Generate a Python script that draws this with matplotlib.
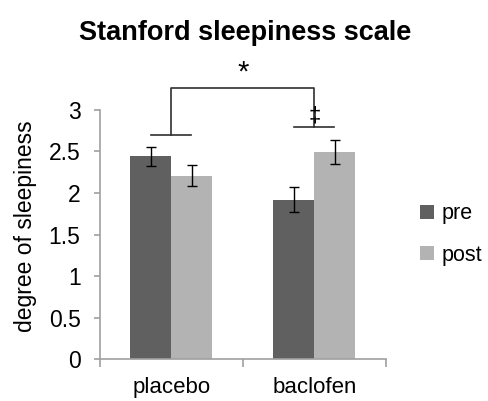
import numpy as np
import matplotlib.pyplot as plt

plt.rcParams['font.family'] = ['Liberation Sans', 'DejaVu Sans']

groups = ['placebo', 'baclofen']
pre = [2.44, 1.92]
post = [2.21, 2.49]
pre_err = [0.12, 0.15]
post_err = [0.125, 0.145]

pre_color = '#606060'
post_color = '#b3b3b3'
axis_color = '#a0a0a0'

fig = plt.figure(figsize=(4.89, 4.01), dpi=100)
ax = fig.add_axes([0.2045, 0.1047, 0.5845, 0.621])

x = np.arange(len(groups)) + 0.5
w = 0.287
ax.bar(x - w / 2, pre, w, color=pre_color, label='pre')
ax.bar(x + w / 2, post, w, color=post_color, label='post')
ax.errorbar(x - w / 2, pre, yerr=pre_err, fmt='none', ecolor='black',
            elinewidth=1, capsize=3.8, capthick=1)
ax.errorbar(x + w / 2, post, yerr=post_err, fmt='none', ecolor='black',
            elinewidth=1, capsize=3.8, capthick=1)

ax.set_xlim(0, 2)
ax.set_ylim(0, 3)
ax.set_yticks([0, 0.5, 1, 1.5, 2, 2.5, 3])
ax.set_yticklabels(['0', '0.5', '1', '1.5', '2', '2.5', '3'])
ax.set_xticks([0, 1, 2])
ax.set_xticklabels([])
ax.set_xticks(x, minor=True)
ax.set_xticklabels(groups, minor=True)
ax.tick_params(axis='x', which='minor', length=0, pad=13, labelsize=16)
ax.tick_params(axis='x', which='major', length=6, color=axis_color, width=1.2)
ax.tick_params(axis='y', length=4, color=axis_color, width=1.2, labelsize=16.5,
               pad=10)

for side in ['top', 'right']:
    ax.spines[side].set_visible(False)
for side in ['left', 'bottom']:
    ax.spines[side].set_color(axis_color)
    ax.spines[side].set_linewidth(1.2)

ax.set_ylabel('degree of sleepiness', fontsize=16.5)
ax.yaxis.set_label_coords(-0.22, 0.534)

# significance markers
lc = '#303030'
ax.plot([x[0] - 0.14, x[0] + 0.14], [2.70, 2.70], color=lc, lw=1.2, clip_on=False)
ax.plot([x[1] - 0.14, x[1] + 0.14], [2.79, 2.79], color=lc, lw=1.2, clip_on=False)
ax.plot([x[0], x[0], x[1], x[1]], [2.70, 3.26, 3.26, 2.79], color=lc, lw=1.2,
        clip_on=False)
ax.text(1.0, 3.28, '*', ha='center', va='bottom', fontsize=21, clip_on=False)
ax.text(x[1], 2.80, '‡', ha='center', va='bottom', fontsize=16, clip_on=False)

fig.text(0.501, 0.90, 'Stanford sleepiness scale', ha='center', va='baseline',
         fontsize=19.5, fontweight='bold')

ax.legend(loc='center left', bbox_to_anchor=(1.052, 0.50), frameon=False,
          fontsize=15.5, handlelength=0.65, handleheight=0.65, handletextpad=0.35,
          labelspacing=0.95)

fig.savefig('out.png', dpi=100)
